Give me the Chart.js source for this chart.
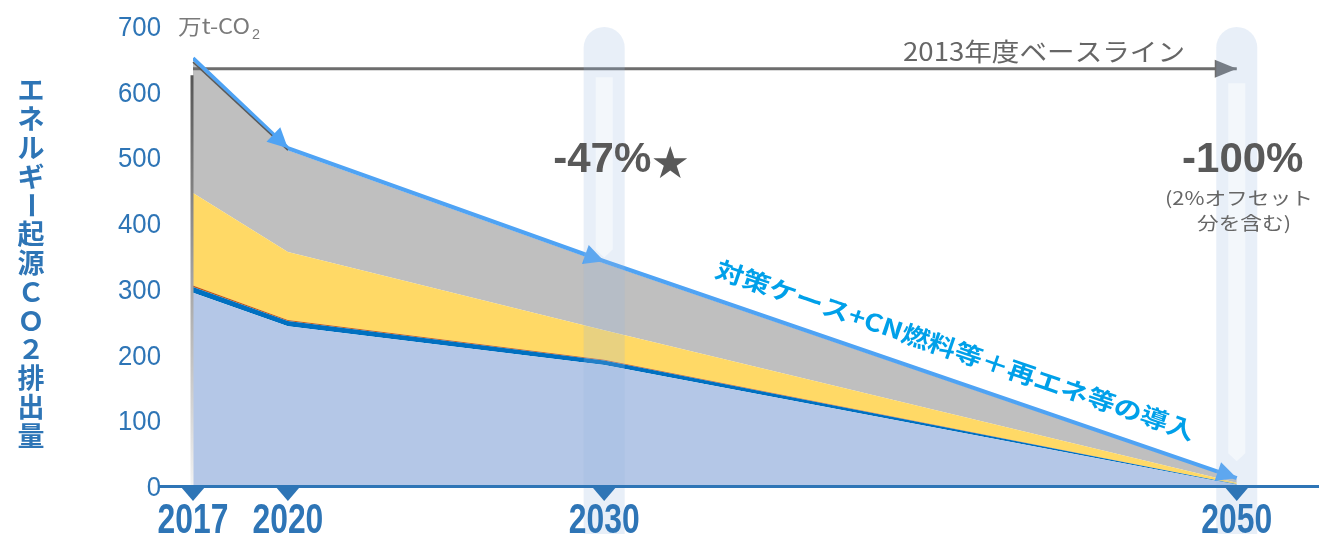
<!DOCTYPE html>
<html lang="ja">
<head>
<meta charset="utf-8">
<title>エネルギー起源CO2排出量</title>
<script src="https://cdn.jsdelivr.net/npm/chart.js@4.4.1/dist/chart.umd.min.js"></script>
<style>
  html, body { margin: 0; padding: 0; background: #fff; }
  canvas { display: block; }
</style>
</head>
<body>
<canvas id="co2Chart" width="1319" height="534"></canvas>
<script>
// --- values (万t-CO2), stacked bottom -> top ---
const years = [2017, 2020, 2030, 2050];
const lightBlueLayer = [294, 243, 184, 2];
const darkBlueLayer = [9, 8, 7, 0.5];
const orangeLayer = [2, 1.5, 1, 0.2];
const yellowLayer = [141, 103.5, 45, 2.3];
const grayLayer = [199, 155, 102, 5];

// 対策ケース+CN燃料等＋再エネ等の導入 (blue arrow line)
const caseLine = [651, 514, 342, 12];
const caseArrowAt = [1, 2, 3]; // arrowheads at 2020, 2030, 2050

// 2013年度ベースライン
const baselineYears = [2017, 2050];
const baselineValues = [635, 635];

// highlighted years (pale pillars)
const pillarYears = [2030, 2050];

const yTickValues = [0, 100, 200, 300, 400, 500, 600, 700];

const BLUE = '#2e75b6';
const SANS = "'Liberation Sans', Arial, sans-serif";
const JP = "'Noto Sans CJK JP', 'Noto Sans', sans-serif";

function pts(xs, ys) {
  return xs.map((x, i) => ({ x: x, y: ys[i] }));
}

function area(label, values, color, fill) {
  return {
    label: label,
    data: pts(years, values),
    backgroundColor: color,
    borderWidth: 0,
    fill: fill,
    stack: 'main',
    pointRadius: 0,
    tension: 0
  };
}

// draw text squeezed/stretched horizontally by sx
function scaledText(ctx, text, x, y, sx, align, baseline) {
  ctx.save();
  ctx.translate(x, y);
  ctx.scale(sx, 1);
  ctx.textAlign = align;
  ctx.textBaseline = baseline;
  ctx.fillText(text, 0, 0);
  ctx.restore();
}

// draw text fitted to a given width, centred on (cx, cy)
function fitText(ctx, text, cx, cy, width) {
  const w = ctx.measureText(text).width;
  scaledText(ctx, text, cx, cy, width / w, 'center', 'middle');
}

function arrowHead(ctx, x0, y0, x1, y1, len, half, color) {
  const a = Math.atan2(y1 - y0, x1 - x0);
  ctx.save();
  ctx.translate(x1, y1);
  ctx.rotate(a);
  ctx.beginPath();
  ctx.moveTo(0, 0);
  ctx.lineTo(-len, -half);
  ctx.lineTo(-len, half);
  ctx.closePath();
  ctx.fillStyle = color;
  ctx.fill();
  ctx.restore();
}

const decor = {
  id: 'decor',
  afterDatasetsDraw(chart) {
    const ctx = chart.ctx;
    const xs = chart.scales.x;
    const ys = chart.scales.y;
    const area = chart.chartArea;

    // left edge shade of the area
    const gTop = ys.getPixelForValue(625);
    const grad = ctx.createLinearGradient(0, gTop, 0, area.bottom);
    grad.addColorStop(0, '#555555');
    grad.addColorStop(1, '#f2f2f2');
    ctx.save();
    ctx.strokeStyle = grad;
    ctx.lineWidth = 3;
    ctx.beginPath();
    ctx.moveTo(area.left - 1, gTop);
    ctx.lineTo(area.left - 1, area.bottom);
    ctx.stroke();
    ctx.restore();

    // dark edge on the grey layer between 2017 and 2020
    const grayMeta = chart.getDatasetMeta(4).data;
    ctx.save();
    ctx.strokeStyle = '#595959';
    ctx.lineWidth = 1.5;
    ctx.beginPath();
    ctx.moveTo(grayMeta[0].x, grayMeta[0].y);
    ctx.lineTo(grayMeta[1].x, grayMeta[1].y);
    ctx.stroke();
    ctx.restore();

    // arrowheads on the case line and baseline
    const caseMeta = chart.getDatasetMeta(5).data;
    caseArrowAt.forEach(i => {
      const p0 = caseMeta[i - 1], p1 = caseMeta[i];
      arrowHead(ctx, p0.x, p0.y, p1.x, p1.y, 20, 10, '#4fa3f4');
    });
    const baseMeta = chart.getDatasetMeta(6).data;
    arrowHead(ctx, baseMeta[0].x, baseMeta[0].y, baseMeta[1].x, baseMeta[1].y, 22, 9, '#6d6d6d');

    // pale pillars with inner arrows
    const inner = { 2030: [622, 360], 2050: [613, 50] };
    pillarYears.forEach(yr => {
      const px = xs.getPixelForValue(yr);
      const top = ys.getPixelForValue(700) + 1;
      ctx.save();
      ctx.fillStyle = 'rgba(150,180,222,0.22)';
      ctx.beginPath();
      ctx.roundRect(px - 20.5, top, 41, chart.height - top, [20.5, 20.5, 0, 0]);
      ctx.fill();
      const a = ys.getPixelForValue(inner[yr][0]);
      const b = ys.getPixelForValue(inner[yr][1]);
      ctx.fillStyle = 'rgba(255,255,255,0.5)';
      ctx.beginPath();
      ctx.moveTo(px - 8.5, a);
      ctx.lineTo(px + 8.5, a);
      ctx.lineTo(px + 8.5, b);
      ctx.lineTo(px, b + 8);
      ctx.lineTo(px - 8.5, b);
      ctx.closePath();
      ctx.fill();
      ctx.restore();
    });

    // x axis line and tick triangles
    ctx.save();
    ctx.strokeStyle = BLUE;
    ctx.lineWidth = 3;
    ctx.beginPath();
    ctx.moveTo(area.left - 34, area.bottom + 0.5);
    ctx.lineTo(chart.width, area.bottom + 0.5);
    ctx.stroke();
    ctx.fillStyle = BLUE;
    xs.ticks.forEach(t => {
      const px = xs.getPixelForValue(t.value);
      ctx.beginPath();
      ctx.moveTo(px - 12, area.bottom + 1);
      ctx.lineTo(px + 12, area.bottom + 1);
      ctx.lineTo(px, area.bottom + 15);
      ctx.closePath();
      ctx.fill();
    });

    // tick labels (narrow, tall digits)
    ctx.font = 'bold 43px ' + SANS;
    xs.ticks.forEach(t => {
      scaledText(ctx, String(t.value), xs.getPixelForValue(t.value), area.bottom + 47, 0.74, 'center', 'alphabetic');
    });
    ctx.font = '28px ' + SANS;
    ys.ticks.forEach(t => {
      scaledText(ctx, String(t.value), area.left - 32, ys.getPixelForValue(t.value) + 10, 0.92, 'right', 'alphabetic');
    });
    ctx.restore();

    // texts
    ctx.save();
    // unit
    ctx.fillStyle = '#7a7a7a';
    ctx.font = '21px ' + JP;
    fitText(ctx, '万t-CO', 214, 26, 72);
    ctx.font = '14px ' + SANS;
    fitText(ctx, '2', 256, 35, 8);

    // y axis title, stacked upright
    ctx.fillStyle = BLUE;
    ctx.font = 'bold 27px ' + JP;
    const title = ['エ', 'ネ', 'ル', 'ギ', 'ー', '起', '源', 'Ｃ', 'Ｏ', '２', '排', '出', '量'];
    title.forEach((ch, i) => {
      ctx.save();
      ctx.translate(31, 90 + i * 28.8);
      if (ch === 'ー') ctx.rotate(Math.PI / 2);
      ctx.textAlign = 'center';
      ctx.textBaseline = 'middle';
      ctx.fillText(ch, 0, 0);
      ctx.restore();
    });

    // baseline label
    ctx.fillStyle = '#666666';
    ctx.font = '25px ' + JP;
    fitText(ctx, '2013年度ベースライン', 1044, 51, 282);

    // reduction labels
    ctx.fillStyle = '#595959';
    ctx.font = 'bold 42px ' + SANS;
    ctx.textBaseline = 'middle';
    ctx.textAlign = 'left';
    const left47 = xs.getPixelForValue(2030) - 51;
    ctx.fillText('-47%', left47, 160);
    const w47 = ctx.measureText('-47%').width;
    ctx.font = '36px ' + JP;
    ctx.fillText('★', left47 + w47 + 1, 162);
    ctx.font = 'bold 42px ' + SANS;
    ctx.textAlign = 'center';
    ctx.fillText('-100%', xs.getPixelForValue(2050) + 6, 160);
    ctx.fillStyle = '#666666';
    ctx.font = '18px ' + JP;
    fitText(ctx, '(2%オフセット', 1239, 198, 148);
    fitText(ctx, '分を含む)', 1244, 223, 94);

    // label along the case line
    const p0 = caseMeta[2], p1 = caseMeta[3];
    const ang = Math.atan2(p1.y - p0.y, p1.x - p0.x);
    const t = 0.54;
    const cx = p0.x + (p1.x - p0.x) * t + Math.sin(ang) * 30;
    const cy = p0.y + (p1.y - p0.y) * t - Math.cos(ang) * 30;
    ctx.fillStyle = '#00a0e9';
    ctx.font = 'bold 24px ' + JP;
    ctx.translate(cx, cy);
    ctx.rotate(ang);
    fitText(ctx, '対策ケース+CN燃料等＋再エネ等の導入', 0, 0, 505);
    ctx.restore();
  }
};

new Chart(document.getElementById('co2Chart'), {
  type: 'line',
  data: {
    datasets: [
      area('layer1', lightBlueLayer, '#b4c7e7', 'origin'),
      area('layer2', darkBlueLayer, '#0070c0', '-1'),
      area('layer3', orangeLayer, '#c55a11', '-1'),
      area('layer4', yellowLayer, '#ffd966', '-1'),
      area('layer5', grayLayer, '#bfbfbf', '-1'),
      {
        label: '対策ケース',
        data: pts(years, caseLine),
        borderColor: '#4fa3f4',
        borderWidth: 4,
        fill: false,
        stack: 'case',
        order: -1,
        pointRadius: 0,
        tension: 0
      },
      {
        label: '2013年度ベースライン',
        data: pts(baselineYears, baselineValues),
        borderColor: '#6d6d6d',
        borderWidth: 3,
        fill: false,
        stack: 'base',
        order: -1,
        pointRadius: 0,
        tension: 0
      }
    ]
  },
  options: {
    responsive: false,
    animation: false,
    events: [],
    devicePixelRatio: 1,
    layout: { padding: { top: 26, left: 0, right: 0, bottom: 0 } },
    plugins: {
      legend: { display: false },
      tooltip: { enabled: false }
    },
    scales: {
      x: {
        type: 'linear',
        min: 2017,
        max: 2052.6,
        grid: { display: false, drawTicks: false },
        border: { display: false },
        afterBuildTicks: s => { s.ticks = years.map(v => ({ value: v })); },
        afterFit: s => { s.height = 48; },
        ticks: { display: false, padding: 0 }
      },
      y: {
        stacked: true,
        min: 0,
        max: 700,
        grid: { display: false, drawTicks: false },
        border: { display: false },
        afterBuildTicks: s => { s.ticks = yTickValues.map(v => ({ value: v })); },
        afterFit: s => { s.width = 193; },
        ticks: { display: false, padding: 0 }
      }
    }
  },
  plugins: [decor]
});
</script>
</body>
</html>
